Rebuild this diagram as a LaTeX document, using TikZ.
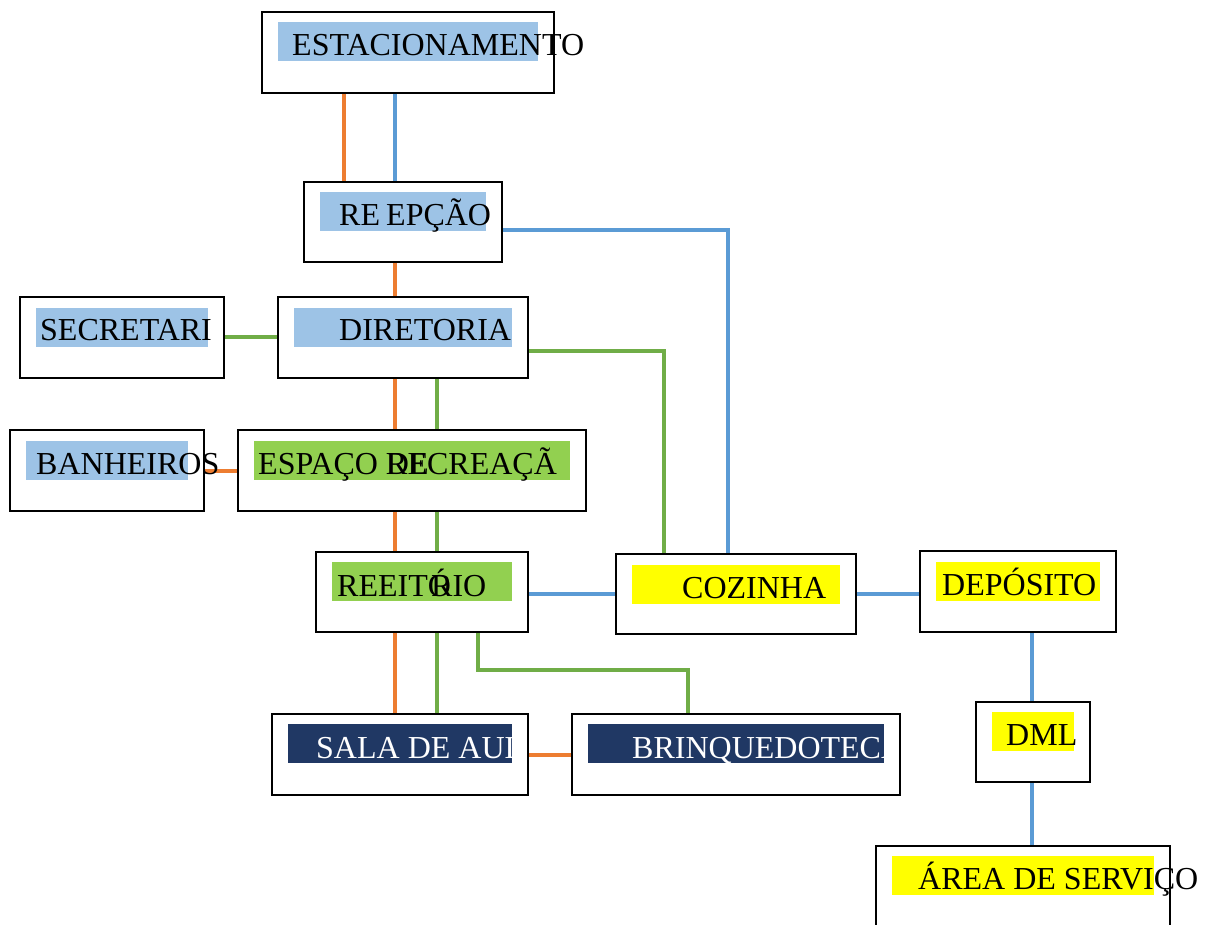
\documentclass[tikz,border=0pt]{standalone}
\usepackage{fontspec}
\setmainfont{Liberation Serif}
\definecolor{hlblue}{HTML}{9DC3E6}
\definecolor{hlgreen}{HTML}{92D050}
\definecolor{hlyellow}{HTML}{FFFF00}
\definecolor{hlnavy}{HTML}{203864}
\definecolor{conor}{HTML}{ED7D31}
\definecolor{conbl}{HTML}{5B9BD5}
\definecolor{congr}{HTML}{70AD47}
\begin{document}
\begin{tikzpicture}[x=1pt,y=-1pt,
  box/.style={draw=black,line width=2pt,inner sep=0pt},
  lbl/.style={anchor=base west,inner sep=0pt,font=\fontsize{32}{38}\selectfont},
  orangec/.style={draw=conor,line width=4pt},
  bluec/.style={draw=conbl,line width=4pt},
  greenc/.style={draw=congr,line width=4pt}]
\useasboundingbox (0,0) rectangle (1211,925);
\clip (0,0) rectangle (1211,925);
% highlights
\fill[hlblue] (278,22) rectangle (538,61);
\fill[hlblue] (320,192) rectangle (486,231);
\fill[hlblue] (36,308) rectangle (208,347);
\fill[hlblue] (294,308) rectangle (512,347);
\fill[hlblue] (26,441) rectangle (188,480);
\fill[hlgreen] (254,441) rectangle (570,480);
\fill[hlgreen] (332,562) rectangle (512,601);
\fill[hlyellow] (632,565) rectangle (840,604);
\fill[hlyellow] (936,562) rectangle (1100,601);
\fill[hlyellow] (992,712) rectangle (1074,751);
\fill[hlyellow] (892,856) rectangle (1154,895);
\fill[hlnavy] (288,724) rectangle (512,763);
\fill[hlnavy] (588,724) rectangle (884,763);
% white labels
\node[lbl,text=white] (tsala) at (316,758) {SALA DE AULA};
\node[lbl,text=white] (tbrin) at (632,758) {BRINQUEDOTECA};
% boxes
\node[box,minimum width=292pt,minimum height=81pt] (est) at (408,52.5) {};
\node[box,minimum width=198pt,minimum height=80pt] (rec) at (403,222) {};
\node[box,minimum width=204pt,minimum height=81pt] (sec) at (122,337.5) {};
\node[box,minimum width=250pt,minimum height=81pt] (dir) at (403,337.5) {};
\node[box,minimum width=194pt,minimum height=81pt] (ban) at (107,470.5) {};
\node[box,minimum width=348pt,minimum height=81pt] (esp) at (412,470.5) {};
\node[box,minimum width=212pt,minimum height=80pt] (ref) at (422,592) {};
\node[box,minimum width=240pt,minimum height=80pt] (coz) at (736,594) {};
\node[box,minimum width=196pt,minimum height=81pt] (dep) at (1018,591.5) {};
\node[box,minimum width=114pt,minimum height=80pt] (dml) at (1033,742) {};
\node[box,minimum width=294pt,minimum height=104pt] (area) at (1023,898) {};
\node[box,minimum width=256pt,minimum height=81pt] (sala) at (400,754.5) {};
\node[box,minimum width=328pt,minimum height=81pt] (brin) at (736,754.5) {};
% guide coordinates
\coordinate (cA) at (344,0);
\coordinate (cB) at (395,0);
\coordinate (cC) at (437,0);
\coordinate (cD) at (478,0);
\coordinate (cE) at (688,0);
\coordinate (cF) at (728,0);
\coordinate (cG) at (664,0);
\coordinate (cH) at (1032,0);
\coordinate (rA) at (0,230);
\coordinate (rB) at (0,351);
\coordinate (rC) at (0,337);
\coordinate (rD) at (0,471);
\coordinate (rE) at (0,594);
\coordinate (rF) at (0,670);
\coordinate (rG) at (0,755);
% connectors
\draw[orangec] (est.south -| cA) -- (rec.north -| cA);
\draw[bluec] (est.south -| cB) -- (rec.north -| cB);
\draw[orangec] (rec.south -| cB) -- (dir.north -| cB);
\draw[bluec] (rec.east |- rA) -| (coz.north -| cF);
\draw[greenc] (sec.east |- rC) -- (dir.west |- rC);
\draw[greenc] (dir.east |- rB) -| (coz.north -| cG);
\draw[orangec] (dir.south -| cB) -- (esp.north -| cB);
\draw[greenc] (dir.south -| cC) -- (esp.north -| cC);
\draw[orangec] (ban.east |- rD) -- (esp.west |- rD);
\draw[orangec] (esp.south -| cB) -- (ref.north -| cB);
\draw[greenc] (esp.south -| cC) -- (ref.north -| cC);
\draw[bluec] (ref.east |- rE) -- (coz.west |- rE);
\draw[bluec] (coz.east |- rE) -- (dep.west |- rE);
\draw[bluec] (dep.south -| cH) -- (dml.north -| cH);
\draw[bluec] (dml.south -| cH) -- (area.north -| cH);
\draw[orangec] (ref.south -| cB) -- (sala.north -| cB);
\draw[greenc] (ref.south -| cC) -- (sala.north -| cC);
\draw[greenc] (ref.south -| cD) |- (cE |- rF) -- (brin.north -| cE);
\draw[orangec] (sala.east |- rG) -- (brin.west |- rG);
% black labels
\node[lbl] (test) at (292,56) {ESTACIONAMENTO};
\node[lbl] (trec1) at (339,226) {RE};
\node[lbl] (trec2) at (386,226) {EPÇÃO};
\node[lbl] (tsec) at (40,341) {SECRETARI};
\node[lbl] (tdir) at (339,341) {DIRETORIA};
\node[lbl] (tban) at (36,474) {BANHEIROS};
\node[lbl] (tesp1) at (258,474) {ESPAÇO DE};
\node[lbl] (tesp2) at (386,474) {RECREAÇÃ};
\node[lbl] (tref1) at (337,596) {REEITÓ};
\node[lbl] (tref2) at (431,596) {RIO};
\node[lbl] (tcoz) at (682,598) {COZINHA};
\node[lbl] (tdep) at (942,595) {DEPÓSITO};
\node[lbl] (tdml) at (1006,745) {DML};
\node[lbl] (tarea) at (918,889) {ÁREA DE SERVIÇO};
\end{tikzpicture}
\end{document}
